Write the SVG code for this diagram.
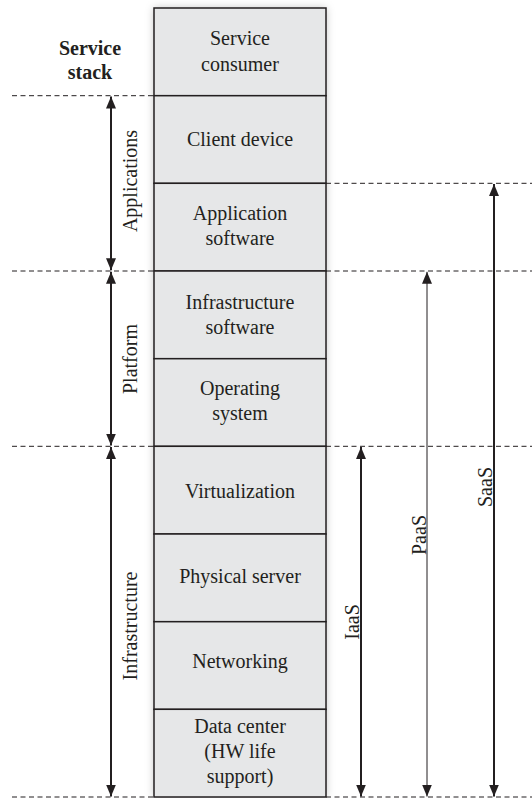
<svg xmlns="http://www.w3.org/2000/svg" width="532" height="798" viewBox="0 0 532 798">
<style>
.lbl{font-family:"Times New Roman",Tinos,"Liberation Serif",serif;font-size:20px;fill:#231f20;text-anchor:middle}
.bold{font-weight:bold}
.box{fill:#e6e7e8;stroke:#231f20;stroke-width:1.5}
.dash{stroke:#231f20;stroke-width:1;stroke-dasharray:5,3.5;fill:none}
.thick{stroke:#231f20;stroke-width:2;fill:none}
.thin{stroke:#231f20;stroke-width:1;fill:none}
</style>
<defs>
<filter id="sh" x="-20%" y="-5%" width="140%" height="110%">
<feDropShadow dx="0" dy="0" stdDeviation="4" flood-color="#000" flood-opacity="0.25"/>
</filter>
<marker id="ah2" viewBox="0 0 12 10" refX="12" refY="5" markerWidth="12" markerHeight="10" markerUnits="userSpaceOnUse" orient="auto-start-reverse">
<path d="M0,0 L12,5 L0,10 Z" fill="#231f20"/>
</marker>
</defs>
<rect x="154" y="8" width="172" height="789" fill="#e6e7e8" filter="url(#sh)"/>
<g id="service-consumer"><rect class="box" x="154" y="8" width="172" height="87.7"/><text class="lbl" x="240" y="45">Service</text><text class="lbl" x="240" y="71">consumer</text></g>
<g id="client-device"><rect class="box" x="154" y="95.7" width="172" height="87.7"/><text class="lbl" x="240" y="146">Client device</text></g>
<g id="application-software"><rect class="box" x="154" y="183.3" width="172" height="87.7"/><text class="lbl" x="240" y="220">Application</text><text class="lbl" x="240" y="245">software</text></g>
<g id="infrastructure-software"><rect class="box" x="154" y="271" width="172" height="87.7"/><text class="lbl" x="240" y="309">Infrastructure</text><text class="lbl" x="240" y="334">software</text></g>
<g id="operating-system"><rect class="box" x="154" y="358.7" width="172" height="87.7"/><text class="lbl" x="240" y="395">Operating</text><text class="lbl" x="240" y="420">system</text></g>
<g id="virtualization"><rect class="box" x="154" y="446.3" width="172" height="87.7"/><text class="lbl" x="240" y="498">Virtualization</text></g>
<g id="physical-server"><rect class="box" x="154" y="534" width="172" height="87.7"/><text class="lbl" x="240" y="583">Physical server</text></g>
<g id="networking"><rect class="box" x="154" y="621.7" width="172" height="87.7"/><text class="lbl" x="240" y="668">Networking</text></g>
<g id="data-center"><rect class="box" x="154" y="709.3" width="172" height="87.7"/><text class="lbl" x="240" y="733">Data center</text><text class="lbl" x="240" y="758">(HW life</text><text class="lbl" x="240" y="783">support)</text></g>
<g id="title"><text class="lbl bold" x="90" y="55">Service</text><text class="lbl bold" x="90" y="79">stack</text></g>
<g id="connectors">
<line class="dash" x1="12" y1="95.7" x2="154" y2="95.7"/>
<line class="dash" x1="326" y1="183.3" x2="532" y2="183.3"/>
<line class="dash" x1="12" y1="271" x2="154" y2="271"/>
<line class="dash" x1="326" y1="271" x2="532" y2="271"/>
<line class="dash" x1="12" y1="446.3" x2="154" y2="446.3"/>
<line class="dash" x1="326" y1="446.3" x2="532" y2="446.3"/>
<line class="dash" x1="12" y1="797" x2="154" y2="797"/>
<line class="dash" x1="326" y1="797" x2="532" y2="797"/>
<line class="thick" x1="111" y1="96.5" x2="111" y2="270.2" marker-start="url(#ah2)" marker-end="url(#ah2)"/>
<line class="thick" x1="111" y1="271.8" x2="111" y2="445.5" marker-start="url(#ah2)" marker-end="url(#ah2)"/>
<line class="thick" x1="111" y1="447.1" x2="111" y2="796.5" marker-start="url(#ah2)" marker-end="url(#ah2)"/>
<line class="thick" x1="361" y1="447.1" x2="361" y2="796.5" marker-start="url(#ah2)" marker-end="url(#ah2)"/>
<line class="thin" x1="427" y1="271.8" x2="427" y2="796.5" marker-start="url(#ah2)" marker-end="url(#ah2)"/>
<line class="thick" x1="494" y1="184.1" x2="494" y2="796.5" marker-start="url(#ah2)" marker-end="url(#ah2)"/>
</g>
<g id="labels">
<text class="lbl" transform="translate(137,181) rotate(-90)">Applications</text>
<text class="lbl" transform="translate(137,359) rotate(-90)">Platform</text>
<text class="lbl" transform="translate(137,626) rotate(-90)">Infrastructure</text>
<text class="lbl" transform="translate(359,622) rotate(-90)">IaaS</text>
<text class="lbl" transform="translate(426,535) rotate(-90)">PaaS</text>
<text class="lbl" transform="translate(492,487) rotate(-90)">SaaS</text>
</g>
</svg>
